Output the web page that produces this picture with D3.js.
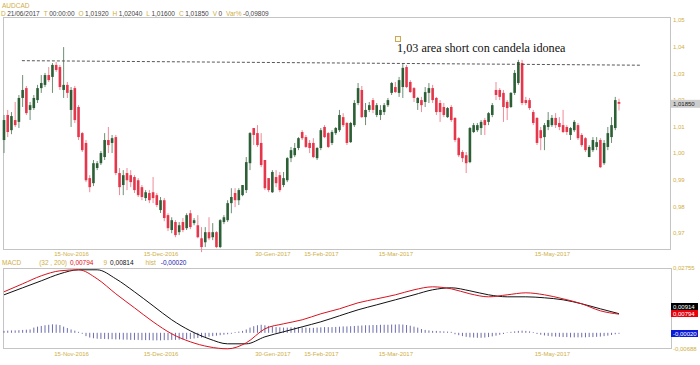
<!DOCTYPE html>
<html>
<head>
<meta charset="utf-8">
<script src="https://cdn.jsdelivr.net/npm/d3@7"></script>
<style>
  body { margin: 0; background: #fff; }
  svg { display: block; font-family: Arial, "Liberation Sans", sans-serif; }
</style>
</head>
<body>
<div id="chart"><svg width="700" height="365"></svg></div>
<script>
// daily AUDCAD candles, [open, high, low, close]
const ohlc = [
  [1.0049,1.0143,1.0000,1.0124],[1.0143,1.0162,1.0060,1.0079],[1.0086,1.0154,1.0071,1.0139],[1.0124,1.0192,1.0098,1.0105],
  [1.0117,1.0218,1.0094,1.0207],[1.0207,1.0293,1.0173,1.0237],[1.0244,1.0252,1.0143,1.0150],[1.0162,1.0192,1.0124,1.0180],
  [1.0169,1.0218,1.0162,1.0207],[1.0199,1.0256,1.0188,1.0244],[1.0244,1.0293,1.0226,1.0263],[1.0256,1.0301,1.0248,1.0293],
  [1.0293,1.0323,1.0267,1.0274],[1.0286,1.0338,1.0226,1.0331],[1.0331,1.0342,1.0305,1.0312],[1.0323,1.0331,1.0237,1.0248],
  [1.0237,1.0398,1.0207,1.0256],[1.0256,1.0267,1.0207,1.0226],[1.0162,1.0248,1.0098,1.0237],[1.0244,1.0252,1.0113,1.0124],
  [1.0173,1.0180,1.0049,1.0060],[1.0075,1.0079,1.0004,1.0011],[1.0038,1.0049,0.9891,0.9898],[0.9906,0.9917,0.9853,0.9872],
  [0.9887,0.9974,0.9876,0.9962],[0.9944,0.9970,0.9936,0.9962],[0.9962,1.0008,0.9955,1.0000],[0.9985,1.0075,0.9974,1.0049],
  [1.0049,1.0098,1.0000,1.0030],[1.0038,1.0068,1.0000,1.0056],[1.0060,1.0068,0.9917,0.9925],[0.9925,0.9944,0.9842,0.9872],
  [0.9880,0.9936,0.9842,0.9917],[0.9925,0.9944,0.9861,0.9898],[0.9917,0.9936,0.9872,0.9891],[0.9910,0.9917,0.9850,0.9861],
  [0.9898,0.9906,0.9835,0.9842],[0.9872,0.9880,0.9823,0.9835],[0.9831,0.9861,0.9820,0.9853],[0.9850,0.9861,0.9812,0.9823],
  [0.9853,0.9910,0.9812,0.9831],[0.9842,0.9850,0.9797,0.9805],[0.9786,0.9835,0.9775,0.9823],[0.9823,0.9831,0.9744,0.9756],
  [0.9767,0.9774,0.9707,0.9718],[0.9711,0.9759,0.9699,0.9748],[0.9741,0.9748,0.9684,0.9692],[0.9703,0.9741,0.9692,0.9729],
  [0.9741,0.9756,0.9703,0.9711],[0.9718,0.9774,0.9711,0.9767],[0.9774,0.9786,0.9714,0.9722],[0.9737,0.9756,0.9729,0.9748],
  [0.9729,0.9767,0.9680,0.9684],[0.9680,0.9722,0.9628,0.9647],[0.9665,0.9722,0.9647,0.9703],[0.9703,0.9759,0.9673,0.9680],
  [0.9684,0.9737,0.9673,0.9703],[0.9703,0.9707,0.9643,0.9647],[0.9647,0.9752,0.9643,0.9748],[0.9741,0.9767,0.9733,0.9759],
  [0.9748,0.9823,0.9741,0.9812],[0.9812,0.9868,0.9774,0.9835],[0.9850,0.9868,0.9797,0.9823],[0.9823,0.9868,0.9805,0.9861],
  [0.9842,0.9880,0.9838,0.9880],[0.9861,0.9985,0.9850,0.9966],[0.9962,1.0079,0.9936,1.0075],[1.0094,1.0094,1.0030,1.0068],
  [1.0075,1.0105,1.0023,1.0030],[1.0038,1.0075,0.9947,0.9955],[0.9974,0.9974,0.9861,0.9868],[0.9906,0.9906,0.9853,0.9861],
  [0.9853,0.9936,0.9850,0.9929],[0.9910,0.9936,0.9872,0.9887],[0.9917,0.9929,0.9853,0.9861],[0.9880,0.9929,0.9872,0.9906],
  [0.9898,0.9985,0.9891,0.9981],[0.9981,1.0023,0.9966,1.0011],[0.9992,1.0038,0.9985,1.0019],[1.0019,1.0060,1.0011,1.0056],
  [1.0079,1.0086,1.0049,1.0056],[1.0060,1.0068,1.0019,1.0023],[1.0038,1.0049,1.0000,1.0019],[1.0038,1.0056,0.9981,0.9985],
  [0.9981,1.0023,0.9974,1.0019],[1.0019,1.0094,1.0011,1.0086],[1.0098,1.0105,1.0056,1.0060],[1.0075,1.0079,1.0019,1.0023],
  [1.0038,1.0086,1.0030,1.0079],[1.0075,1.0098,1.0068,1.0094],[1.0086,1.0162,1.0079,1.0143],[1.0135,1.0150,1.0098,1.0105],
  [1.0113,1.0117,1.0030,1.0038],[1.0041,1.0117,1.0038,1.0113],[1.0105,1.0199,1.0098,1.0188],[1.0188,1.0263,1.0180,1.0244],
  [1.0237,1.0252,1.0132,1.0135],[1.0135,1.0188,1.0105,1.0162],[1.0162,1.0192,1.0154,1.0180],[1.0199,1.0207,1.0150,1.0162],
  [1.0143,1.0188,1.0135,1.0180],[1.0143,1.0180,1.0124,1.0162],[1.0154,1.0188,1.0143,1.0180],[1.0180,1.0207,1.0173,1.0199],
  [1.0226,1.0267,1.0218,1.0263],[1.0248,1.0267,1.0226,1.0229],[1.0226,1.0286,1.0211,1.0274],[1.0248,1.0338,1.0207,1.0320],
  [1.0323,1.0331,1.0244,1.0248],[1.0267,1.0274,1.0226,1.0229],[1.0244,1.0248,1.0192,1.0207],[1.0188,1.0211,1.0162,1.0207],
  [1.0199,1.0211,1.0154,1.0180],[1.0192,1.0248,1.0173,1.0229],[1.0226,1.0263,1.0188,1.0244],[1.0244,1.0256,1.0188,1.0199],
  [1.0207,1.0211,1.0143,1.0154],[1.0188,1.0199,1.0117,1.0154],[1.0173,1.0188,1.0135,1.0143],[1.0135,1.0173,1.0132,1.0169],
  [1.0173,1.0180,1.0117,1.0124],[1.0132,1.0135,1.0041,1.0049],[1.0056,1.0060,0.9985,0.9992],[1.0004,1.0011,0.9966,0.9981],
  [0.9992,1.0004,0.9925,0.9962],[0.9966,1.0098,0.9962,1.0094],[1.0079,1.0113,1.0075,1.0105],[1.0086,1.0113,1.0079,1.0105],
  [1.0094,1.0124,1.0068,1.0117],[1.0124,1.0132,1.0068,1.0105],[1.0117,1.0154,1.0105,1.0150],[1.0143,1.0188,1.0135,1.0180],
  [1.0237,1.0267,1.0199,1.0218],[1.0237,1.0244,1.0199,1.0211],[1.0226,1.0237,1.0117,1.0173],[1.0192,1.0199,1.0124,1.0169],
  [1.0173,1.0229,1.0169,1.0226],[1.0226,1.0312,1.0218,1.0301],[1.0263,1.0350,1.0256,1.0342],[1.0338,1.0350,1.0180,1.0188],
  [1.0199,1.0211,1.0180,1.0188],[1.0199,1.0207,1.0162,1.0169],[1.0154,1.0162,1.0105,1.0113],[1.0132,1.0135,1.0030,1.0038],
  [1.0086,1.0098,1.0011,1.0056],[1.0060,1.0113,1.0011,1.0105],[1.0098,1.0154,1.0086,1.0124],[1.0105,1.0143,1.0098,1.0132],
  [1.0132,1.0150,1.0094,1.0105],[1.0113,1.0135,1.0086,1.0098],[1.0105,1.0162,1.0075,1.0079],[1.0098,1.0105,1.0068,1.0079],
  [1.0068,1.0098,1.0049,1.0094],[1.0086,1.0124,1.0079,1.0117],[1.0105,1.0113,1.0049,1.0056],[1.0068,1.0075,1.0023,1.0030],
  [1.0056,1.0060,1.0004,1.0011],[0.9985,1.0030,0.9985,1.0023],[1.0011,1.0060,1.0004,1.0049],[1.0023,1.0060,1.0011,1.0041],
  [1.0049,1.0056,0.9944,0.9947],[0.9962,1.0049,0.9955,1.0038],[1.0023,1.0098,1.0011,1.0075],[1.0060,1.0135,1.0038,1.0105],
  [1.0094,1.0211,1.0086,1.0199],[1.0192,1.0204,1.0160,1.0185]
];

// MACD (32,200) histogram, one value per candle
const hist = [
  0.0006,0.0007,0.0008,0.0008,0.0009,0.0010,0.0011,0.0012,
  0.0020,0.0024,0.0027,0.0030,0.0032,0.0034,0.0033,0.0031,
  0.0024,0.0018,0.0012,0.0007,0.0002,-0.0002,
  -0.0012,-0.0018,-0.0021,-0.0023,-0.0024,-0.0024,-0.0025,-0.0025,-0.0026,-0.0026,-0.0027,-0.0027,
  -0.0028,-0.0028,-0.0028,-0.0029,-0.0029,-0.0029,-0.0030,-0.0030,-0.0030,-0.0029,-0.0029,-0.0028,
  -0.0028,-0.0027,-0.0026,-0.0025,-0.0024,-0.0022,-0.0020,-0.0018,-0.0016,
  -0.0014,-0.0012,-0.0010,-0.0008,-0.0006,-0.0004,-0.0002,
  0.0001,0.0003,0.0006,0.0012,0.0020,0.0026,0.0030,0.0032,0.0030,
  0.0027,0.0024,0.0022,0.0021,0.0020,0.0020,0.0021,0.0022,0.0022,0.0021,0.0020,0.0019,
  0.0019,0.0020,0.0021,0.0022,0.0022,0.0022,0.0023,0.0024,0.0025,0.0025,0.0026,
  0.0027,0.0028,0.0029,0.0030,0.0030,0.0031,0.0031,0.0032,0.0032,0.0032,0.0033,0.0033,
  0.0034,0.0033,0.0031,0.0028,0.0024,0.0020,
  0.0014,0.0010,0.0008,0.0006,0.0006,0.0005,0.0004,0.0003,0.0002,
  -0.0004,-0.0008,-0.0012,-0.0015,-0.0017,-0.0018,-0.0019,-0.0019,-0.0018,-0.0016,-0.0013,-0.0010,
  -0.0006,-0.0003,0.0000,0.0002,0.0004,0.0006,0.0007,0.0006,0.0004,
  0.0001,-0.0003,-0.0006,-0.0009,-0.0011,-0.0013,-0.0014,-0.0015,-0.0016,-0.0016,-0.0017,-0.0017,
  -0.0017,-0.0017,-0.0017,-0.0016,-0.0016,-0.0015,-0.0014,-0.0012,-0.0010,-0.0007,-0.0004,-0.0002
];

// MACD and signal lines, read every 5th candle
const lineIdx = [0,5,10,15,20,25,30,35,40,45,50,55,60,65,70,75,80,85,90,95,100,105,110,115,120,125,130,135,140,145,150,155,160,165];
const macdLine = [0.01743,0.02083,0.02423,0.02635,0.02678,0.02295,0.01658,0.01063,0.00468,-0.00043,-0.00383,-0.00595,
  -0.00680,-0.00425,0.00170,0.00383,0.00553,0.00808,0.01020,0.01275,0.01445,0.01615,0.01828,0.01955,0.01870,0.01658,
  0.01530,0.01615,0.01700,0.01615,0.01445,0.01233,0.00935,0.00794];
const signalLine = [0.01615,0.01913,0.02210,0.02508,0.02678,0.02678,0.02295,0.01743,0.01148,0.00553,0.00085,-0.00255,
  -0.00468,-0.00468,-0.00170,0.00043,0.00255,0.00468,0.00723,0.00978,0.01190,0.01403,0.01615,0.01828,0.01913,0.01785,
  0.01615,0.01530,0.01530,0.01488,0.01403,0.01233,0.01020,0.00814];

const priceTicks = [0.97,0.98,0.99,1.00,1.01,1.02,1.03,1.04,1.05];
const dateIdx = [18, 42, 72, 85, 105, 147];
const dateLabels = ['15-Nov-2016','15-Dec-2016','30-Gen-2017','15-Feb-2017','15-Mar-2017','15-May-2017'];

// hand drawn resistance line and note
const trendLine = [{i: 4.8, v: 1.0347}, {i: 170.6, v: 1.0330}];
const noteText = '1,03 area short con candela idonea';

const headerFields = [['D','21/06/2017'],['T','00:00:00'],['O','1,01920'],['H','1,02040'],
  ['L','1,01600'],['C','1,01850'],['V','0'],['Var%','-0,09809']];

const gold = '#cfae45';
const upColor = '#2c5f35', downColor = '#e5374b';
const comma = f => v => d3.format(f)(v).replace('.', ',');

const svg = d3.select('#chart svg');

const x = d3.scaleLinear().domain([0, ohlc.length - 1]).range([4, 619]);
const y = d3.scaleLinear().domain([0.9636, 1.0511]).range([250, 17]);
const ym = d3.scaleLinear().domain([-0.00688, 0.02755]).range([349, 268]);

// pane frames
svg.append('rect').attr('x', 3.5).attr('y', 17.5).attr('width', 667).attr('height', 232)
  .attr('fill', 'none').attr('stroke', '#c4c4c4');
svg.append('rect').attr('x', 3.5).attr('y', 268.5).attr('width', 668).attr('height', 80)
  .attr('fill', 'none').attr('stroke', '#c4c4c4');

// header
svg.append('text').attr('x', 2).attr('y', 8).attr('font-size', 6.5).attr('fill', gold).text('AUDCAD');
const hdr = svg.append('text').attr('x', 1).attr('y', 16).attr('font-size', 6.5);
headerFields.forEach(([k, v], n) => {
  hdr.append('tspan').attr('dx', n ? 4 : 0).attr('fill', gold).text(k);
  hdr.append('tspan').attr('dx', 1.5).attr('fill', '#444').text(v);
});

// price axis
const yAxis = svg.append('g').attr('transform', 'translate(670,0)')
  .call(d3.axisRight(y).tickValues(priceTicks).tickSize(0).tickPadding(3).tickFormat(comma('.2f')));
yAxis.select('.domain').remove();
yAxis.selectAll('text').attr('fill', gold).attr('font-size', 6);

// date axes for both panes
[[250, 1.5], [349, 3]].forEach(([y0, pad]) => {
  const g = svg.append('g').attr('transform', `translate(0,${y0})`)
    .call(d3.axisBottom(x).tickValues(dateIdx).tickSize(0).tickPadding(pad)
      .tickFormat((d, n) => dateLabels[n]));
  g.select('.domain').remove();
  g.selectAll('text').attr('fill', gold).attr('font-size', 6);
});

// candles
const bw = 2.6;
const gC = svg.append('g');
gC.selectAll('line').data(ohlc).join('line')
  .attr('x1', (d, i) => x(i)).attr('x2', (d, i) => x(i))
  .attr('y1', d => y(d[1])).attr('y2', d => y(d[2]))
  .attr('stroke', d => d[3] >= d[0] ? '#6f8f75' : '#ef8b98').attr('stroke-width', 1);
gC.selectAll('rect').data(ohlc).join('rect')
  .attr('x', (d, i) => x(i) - bw / 2)
  .attr('y', d => y(Math.max(d[0], d[3])))
  .attr('width', bw)
  .attr('height', d => Math.max(1, Math.abs(y(d[0]) - y(d[3]))))
  .attr('fill', d => d[3] >= d[0] ? upColor : downColor);

// resistance line + note
svg.append('line')
  .attr('x1', x(trendLine[0].i)).attr('y1', y(trendLine[0].v))
  .attr('x2', x(trendLine[1].i)).attr('y2', y(trendLine[1].v))
  .attr('stroke', '#444').attr('stroke-dasharray', '3,2').attr('stroke-width', 0.9);
svg.append('rect').attr('x', 395.5).attr('y', 36.5).attr('width', 5).attr('height', 5)
  .attr('fill', '#fffbe8').attr('stroke', '#c9a85a');
svg.append('text').attr('x', 397).attr('y', 52)
  .attr('font-family', '"Liberation Serif", "Times New Roman", serif')
  .attr('font-size', 12.2).attr('fill', '#111').text(noteText);

// last price tag
const last = ohlc[ohlc.length - 1][3];
svg.append('rect').attr('x', 671).attr('y', y(last) - 4).attr('width', 29).attr('height', 8).attr('fill', '#cdcdcd');
svg.append('text').attr('x', 673).attr('y', y(last) + 2).attr('font-size', 6).attr('fill', '#222')
  .text(comma('.5f')(last));

// MACD header
const mh = svg.append('text').attr('x', 2).attr('y', 264.5).attr('font-size', 6.5);
[['MACD', gold, 0], ['(32 , 200)', gold, 18], ['0,00794', '#e01020', 3], ['9', gold, 10],
 ['0,00814', '#111', 3], ['hist', gold, 12], ['-0,00020', '#1a22b0', 5]].forEach(([t, c, dx]) => {
  mh.append('tspan').attr('dx', dx).attr('fill', c).text(t);
});

// MACD scale labels
svg.append('text').attr('x', 673).attr('y', ym(0.02755) + 2).attr('font-size', 6).attr('fill', gold).text('0,02755');
svg.append('text').attr('x', 673).attr('y', ym(-0.00688) + 2).attr('font-size', 6).attr('fill', gold).text('-0,00688');

// histogram
svg.append('g').selectAll('line').data(hist).join('line')
  .attr('x1', (d, i) => x(i)).attr('x2', (d, i) => x(i))
  .attr('y1', ym(0)).attr('y2', d => ym(d) + (d >= 0 ? -0.5 : 0.5))
  .attr('stroke', '#4a4a9c').attr('stroke-width', 1).attr('opacity', 0.8);

// MACD + signal
const ln = vals => d3.line().x((d, n) => x(lineIdx[n])).y(d => ym(d)).curve(d3.curveMonotoneX)(vals);
svg.append('path').attr('d', ln(signalLine)).attr('fill', 'none').attr('stroke', '#111').attr('stroke-width', 1);
svg.append('path').attr('d', ln(macdLine)).attr('fill', 'none').attr('stroke', '#d8131f').attr('stroke-width', 1);

// value tags on the MACD scale
[['0,00914', '#000', 303], ['0,00794', '#e8000c', 310], ['-0,00020', '#0a1ad8', 330]].forEach(([t, c, top]) => {
  svg.append('rect').attr('x', 671).attr('y', top).attr('width', 27).attr('height', 7).attr('fill', c);
  svg.append('text').attr('x', 673).attr('y', top + 5.5).attr('font-size', 6).attr('fill', '#fff').text(t);
});
</script>
</body>
</html>
